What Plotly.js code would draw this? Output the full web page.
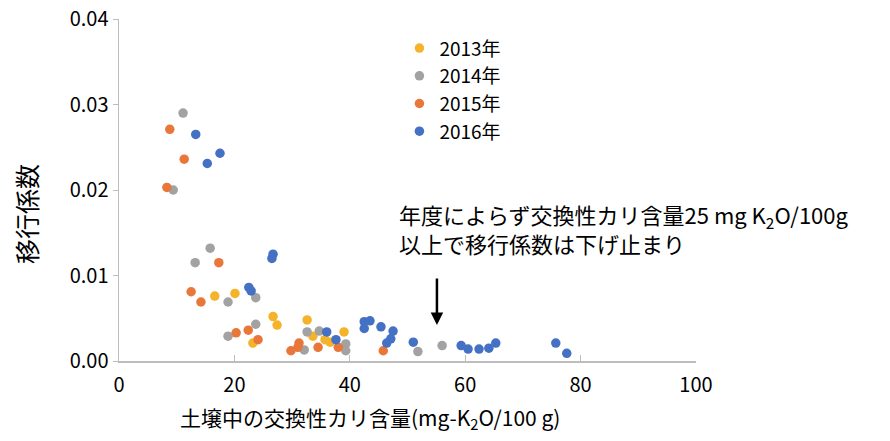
<!DOCTYPE html>
<html>
<head>
<meta charset="utf-8">
<script src="https://cdn.plot.ly/plotly-3.0.1.min.js"></script>
<style>html,body{margin:0;padding:0;background:#fff;}#chart{width:890px;height:441px;}</style>
</head>
<body>
<div id="chart"></div>
<script>
// Data (x: 土壌中の交換性カリ含量 mg-K2O/100g, y: 移行係数)
const seriesNames = ["2013年", "2014年", "2015年", "2016年"];
const x2013 = [16.6, 20.1, 26.7, 27.4, 23.2, 32.6, 33.6, 39.0, 35.7, 36.6];
const y2013 = [0.0076, 0.0079, 0.0052, 0.0042, 0.0021, 0.0048, 0.0029, 0.0034, 0.0025, 0.0022];
const x2014 = [11.1, 9.4, 15.8, 13.2, 18.9, 23.7, 23.7, 18.9, 32.6, 32.1, 34.7, 39.3, 39.3, 51.8, 56.0];
const y2014 = [0.0290, 0.0200, 0.0132, 0.0115, 0.0069, 0.0074, 0.0043, 0.0029, 0.0034, 0.0013, 0.0035, 0.0020, 0.0012, 0.0011, 0.0018];
const x2015 = [8.8, 11.3, 8.3, 17.3, 12.5, 14.2, 22.4, 20.3, 24.1, 31.2, 31.0, 29.8, 34.5, 38.0, 45.8];
const y2015 = [0.0271, 0.0236, 0.0203, 0.0115, 0.0081, 0.0069, 0.0036, 0.0033, 0.0025, 0.0021, 0.0016, 0.0012, 0.0016, 0.0016, 0.0012];
const x2016 = [13.3, 17.5, 15.3, 26.7, 26.5, 22.5, 22.9, 36.0, 37.6, 42.5, 43.5, 42.5, 45.4, 47.5, 47.1, 46.4, 51.0, 59.3, 60.5, 62.4, 64.1, 65.3, 75.7, 77.6];
const y2016 = [0.0265, 0.0243, 0.0231, 0.0125, 0.0120, 0.0086, 0.0082, 0.0034, 0.0025, 0.0046, 0.0047, 0.0038, 0.0040, 0.0035, 0.0026, 0.0021, 0.0022, 0.0018, 0.0014, 0.0014, 0.0015, 0.0021, 0.0021, 0.0009];
const xTicks = [0, 20, 40, 60, 80, 100];
const yTicks = [0, 0.01, 0.02, 0.03, 0.04];
const xTitle = "土壌中の交換性カリ含量(mg-K<sub>2</sub>O/100 g)";
const yTitle = "移行係数";
const noteText = "年度によらず交換性カリ含量25 mg K<sub>2</sub>O/100g<br>以上で移行係数は下げ止まり";

const colors = ["#F4B32A", "#A2A2A2", "#E9773A", "#4471C4"];
const xs = [x2013, x2014, x2015, x2016];
const ys = [y2013, y2014, y2015, y2016];
const FONT = "'Noto Sans CJK JP', 'Noto Sans', sans-serif";

const traces = seriesNames.map((n, i) => ({
  type: "scatter", mode: "markers", name: n,
  x: xs[i], y: ys[i],
  marker: {color: colors[i], size: 9.5, line: {width: 0}}
}));

const layout = {
  width: 890, height: 441,
  margin: {l: 119, r: 194, t: 19, b: 80},
  paper_bgcolor: "#fff", plot_bgcolor: "#fff",
  font: {family: FONT, color: "#000", size: 20},
  showlegend: true,
  legend: {x: 0.486, y: 0.97, xanchor: "left", yanchor: "top",
           font: {family: FONT, size: 19, color: "#000"},
           bgcolor: "rgba(0,0,0,0)", tracegroupgap: 0, itemwidth: 30},
  xaxis: {range: [0, 100], tickvals: xTicks, ticktext: xTicks.map(String),
          showgrid: false, zeroline: false, showline: true, linecolor: "#BDBDBD", linewidth: 1.5,
          ticks: "inside", ticklen: 6, tickcolor: "#BDBDBD", ticklabelstandoff: 5,
          tickfont: {family: FONT, size: 20, color: "#000"}},
  yaxis: {range: [0, 0.04], tickvals: yTicks, tickformat: ".2f",
          showgrid: false, zeroline: false, showline: true, linecolor: "#BDBDBD", linewidth: 1.5,
          ticks: "outside", ticklen: 5, tickcolor: "#BDBDBD",
          tickfont: {family: FONT, size: 20, color: "#000"}},
  annotations: [
    {x: 0.435, y: -0.167, xref: "paper", yref: "paper", xanchor: "center", yanchor: "middle",
     showarrow: false, font: {family: FONT, size: 21, color: "#000"}, text: xTitle},
    {x: -0.161, y: 0.43, xref: "paper", yref: "paper", xanchor: "center", yanchor: "middle",
     textangle: -90, showarrow: false, font: {family: FONT, size: 25, color: "#000"}, text: yTitle},
    {x: 48.2, y: 0.0155, xref: "x", yref: "y", xanchor: "left", yanchor: "middle", align: "left",
     showarrow: false, font: {family: FONT, size: 22, color: "#000"}, text: noteText},
    {x: 55.1, y: 0.0042, xref: "x", yref: "y", ax: 0, ay: -48, showarrow: true, text: "",
     arrowhead: 2, arrowsize: 1, arrowwidth: 2.5, arrowcolor: "#000"}
  ]
};

Plotly.newPlot("chart", traces, layout, {displayModeBar: false, staticPlot: true});
</script>
</body>
</html>
